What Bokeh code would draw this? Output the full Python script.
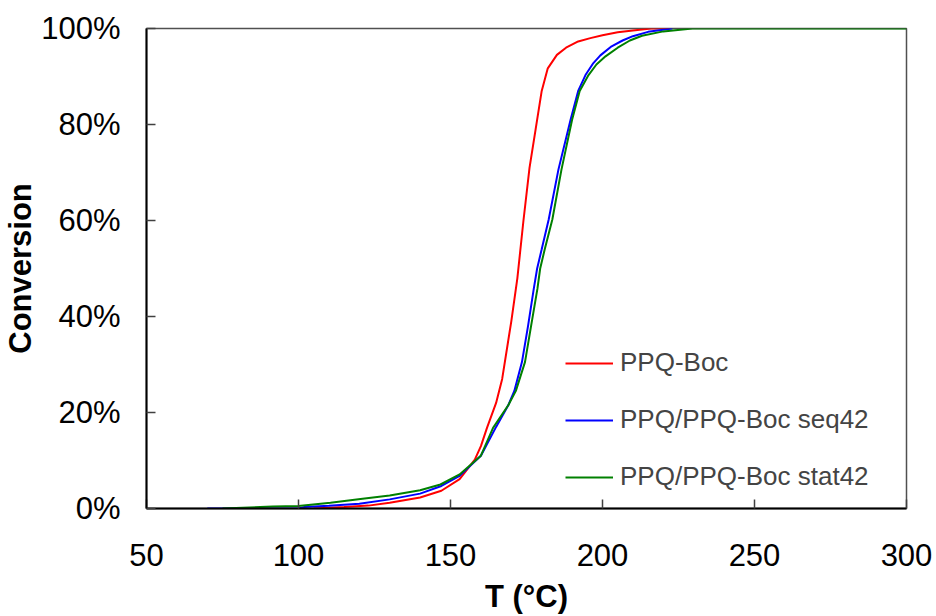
from bokeh.plotting import figure
from bokeh.models import Range1d, FixedTicker, PrintfTickFormatter, Legend, LegendItem
from bokeh.embed import file_html
from bokeh.resources import INLINE

# Temperature (°C) and conversion (%)
t_boc = [105, 115, 123, 130, 140, 147, 153, 158, 160, 162, 165, 167, 170, 172, 174, 176, 178, 180,
         182, 185, 188, 192, 196, 200, 205, 210, 216, 222]
c_boc = [0, 0.3, 0.6, 1.2, 2.3, 3.7, 6.1, 10.2, 13, 16.8, 22, 27, 39, 48, 60, 71, 79, 87,
         91.7, 94.5, 96, 97.3, 98, 98.6, 99.2, 99.6, 100, 100]

t_seq = [70, 100, 102, 110, 120, 130, 140, 147, 153, 160, 165, 169, 171, 173.5, 175.5, 177.4, 178.5, 180,
         182.3, 185.5, 189.5, 192, 194.4, 197, 199.3, 203, 206.6, 210, 215, 223]
c_seq = [0, 0, 0.3, 0.55, 1.0, 1.9, 3.1, 4.7, 6.8, 11, 17, 21.5, 24.5, 30.5, 38, 45.8, 50, 54,
         60.2, 70.6, 81, 87, 90.3, 92.8, 94.4, 96.3, 97.5, 98.4, 99.3, 100]

t_stat = [75, 91.5, 100, 110.5, 120.4, 130, 140, 146.7, 153, 160, 164, 169, 171.5, 174.5, 176.5, 178.6, 179.5,
          181, 183.5, 186.5, 190, 192.5, 195.4, 198, 201, 205, 209, 213, 220, 229.6, 300]
c_stat = [0, 0.4, 0.5, 1.2, 2.0, 2.7, 3.8, 5, 7.1, 11, 16.8, 21.5, 24.5, 30.5, 38, 45.8, 50,
          54, 60.2, 70.6, 81, 87, 90.3, 92.5, 94.2, 96, 97.5, 98.5, 99.4, 100, 100]

series_names = ["PPQ-Boc", "PPQ/PPQ-Boc seq42", "PPQ/PPQ-Boc stat42"]
x_ticks = [50, 100, 150, 200, 250, 300]
y_ticks = [0, 20, 40, 60, 80, 100]

FONT = "Liberation Sans"

p = figure(width=936, height=616, output_backend="svg", toolbar_location=None,
           x_range=Range1d(50, 300), y_range=Range1d(0, 100),
           min_border_left=146, min_border_top=28, min_border_right=30, min_border_bottom=105)
p.xgrid.visible = False
p.ygrid.visible = False
p.outline_line_color = "#505050"
p.outline_line_width = 1.5
p.background_fill_color = "white"
p.border_fill_color = "white"

for ax in (p.xaxis[0], p.yaxis[0]):
    ax.axis_line_color = "black"
    ax.axis_line_width = 2
    ax.major_tick_in = 9
    ax.major_tick_out = 0
    ax.major_tick_line_color = "#404040"
    ax.major_tick_line_width = 1.5
    ax.minor_tick_line_color = None
    ax.major_label_text_font = FONT
    ax.major_label_text_font_size = "31px"
    ax.major_label_text_color = "black"
    ax.axis_label_text_font = FONT
    ax.axis_label_text_font_size = "31px"
    ax.axis_label_text_font_style = "bold"
    ax.axis_label_text_color = "black"

p.xaxis[0].ticker = FixedTicker(ticks=x_ticks)
p.yaxis[0].ticker = FixedTicker(ticks=y_ticks)
p.yaxis[0].formatter = PrintfTickFormatter(format="%d%%")
p.xaxis[0].axis_label = "T (°C)"
p.yaxis[0].axis_label = "Conversion"
p.xaxis[0].major_label_standoff = 35
p.xaxis[0].axis_label_standoff = 10
p.yaxis[0].major_label_standoff = 26
p.yaxis[0].axis_label_standoff = 0

r1 = p.line(t_boc, c_boc, line_color="#FF0000", line_width=2)
r2 = p.line(t_seq, c_seq, line_color="#0000FF", line_width=2)
r3 = p.line(t_stat, c_stat, line_color="#008000", line_width=2)

legend = Legend(items=[LegendItem(label=series_names[0], renderers=[r1]),
                       LegendItem(label=series_names[1], renderers=[r2]),
                       LegendItem(label=series_names[2], renderers=[r3])],
                location=(419, 16))
legend.label_text_font = FONT
legend.label_text_font_size = "26px"
legend.glyph_width = 48
legend.glyph_height = 26
legend.label_height = 26
legend.label_standoff = 7
legend.spacing = 26
legend.padding = 0
legend.margin = 0
legend.border_line_color = None
legend.background_fill_alpha = 0
p.add_layout(legend, "center")

open("out.html", "w").write(file_html(p, INLINE))
